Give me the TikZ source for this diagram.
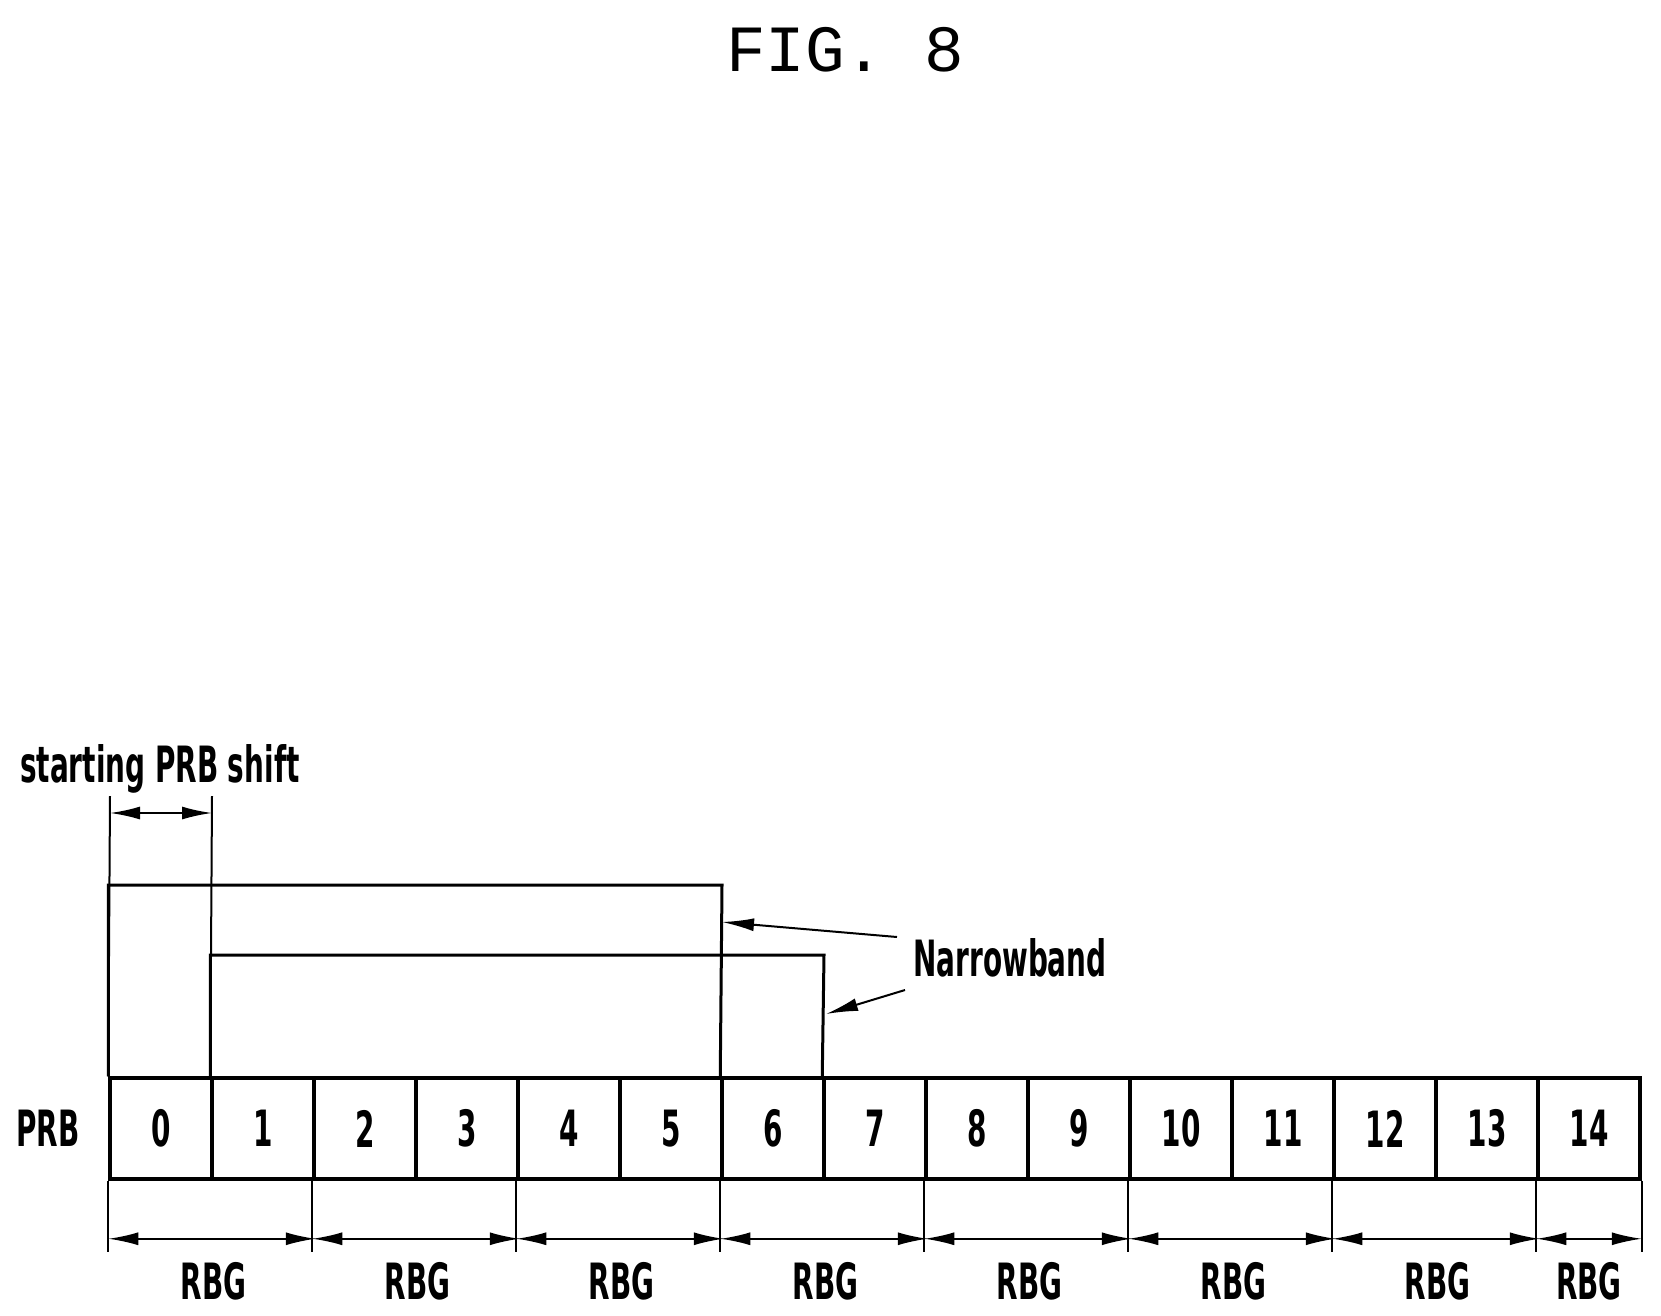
\documentclass[tikz,border=0pt]{standalone}
\usepackage{fontspec}
\setsansfont{DejaVu Sans Condensed}
\setmonofont{Liberation Mono}
\usetikzlibrary{arrows.meta}
\newcommand{\nar}[1]{\scalebox{0.62}[1]{\sffamily\bfseries #1}}
\begin{document}
\begin{tikzpicture}[x=1pt,y=-1pt,
          cell/.style = {draw, line width=3.5pt, minimum width=102pt, minimum height=101pt, inner sep=0pt, font=\fontsize{50}{50}\selectfont},
          lbl/.style = {inner sep=0pt, font=\fontsize{50}{50}\selectfont},
          tick/.style = {line width=2pt},
          dim/.style = {line width=2pt, {Latex[length=30pt,width=13pt]}-{Latex[length=30pt,width=13pt]}},
          band/.style = {line width=3pt},
          ptr/.style = {line width=2pt, -{Latex[length=32pt,width=13pt]}}]
        \useasboundingbox (0,0) rectangle (1661,1315);
        \node[font=\ttfamily\fontsize{66}{66}\selectfont] (title) at (845,50) {FIG. 8};
        % PRB row
        \foreach \i in {0,...,14}
                 {
                   \node[cell] (c\i) at ({161+102*\i},1128.5) {\nar{\i}};
                 }
        \node[lbl] (prb) at (48,1128) {\nar{PRB}};
        % starting PRB shift
        \node[lbl, anchor=base west] (shift) at (20,782) {\nar{starting PRB shift}};
        \coordinate (s0) at (110,796);
        \coordinate (s1) at (212,796);
        \draw[tick] (s0) -- (c0.north west);
        \draw[tick] (s1) -- (c1.north west);
        \draw[dim] (110,813) -- (212,813);
        % narrowbands
        \draw[band] (c0.north west) |- (722,885) -- (c6.north west);
        \draw[band] (c1.north west) |- (824,955) -- (c7.north west);
        \node[lbl] (nb) at (1010,958) {\nar{Narrowband}};
        \draw[ptr] (897,937) -- (722,922);
        \draw[ptr] (905,990) -- (826,1014);
        % RBG
        \foreach \i in {0,2,...,14}
                 {
                   \draw[tick] (c\i.south west) -- ++(0,71);
                 }
        \draw[tick] (c14.south east) -- ++(0,71);
        \foreach \i/\j in {0/1,2/3,4/5,6/7,8/9,10/11,12/13}
                 {
                   \draw[dim] ([yshift=-58pt]c\i.south west) -- ([yshift=-58pt]c\j.south east);
                   \node[lbl] (r\i) at ([yshift=-101pt]c\i.south east) {\nar{RBG}};
                 }
        \draw[dim] ([yshift=-58pt]c14.south west) -- ([yshift=-58pt]c14.south east);
        \node[lbl] (r14) at ([yshift=-101pt]c14.south) {\nar{RBG}};
\end{tikzpicture}
\end{document}
